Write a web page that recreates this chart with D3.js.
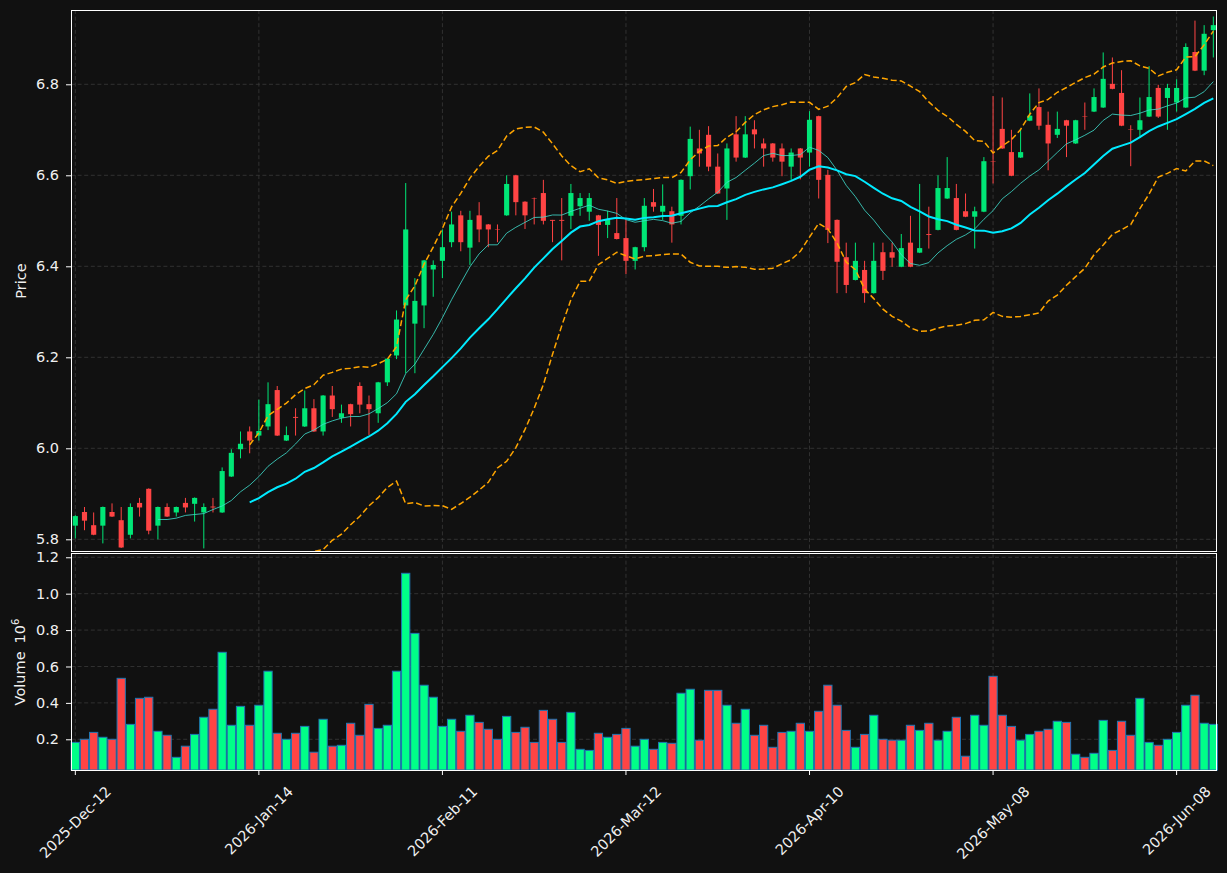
<!DOCTYPE html>
<html>
<head>
<meta charset="utf-8">
<title>Price and volume</title>
<style>
  body { margin: 0; background: #111111; }
  svg text { font-family: "DejaVu Sans", sans-serif; fill: #f0f0f0; }
</style>
</head>
<body>
<div id="chart"></div>
<script src="https://cdn.jsdelivr.net/npm/d3@7"></script>
<script>
// daily OHLC (index 0 = 2025-Dec-12)
const opens = [5.830,5.860,5.831,5.830,5.860,5.842,5.810,5.880,5.911,5.830,
  5.871,5.859,5.880,5.878,5.859,5.872,5.859,5.938,5.998,6.037,
  6.028,6.048,6.128,6.017,6.069,6.048,6.088,6.037,6.116,6.067,
  6.097,6.137,6.097,6.077,6.145,6.204,6.314,6.274,6.314,6.393,
  6.412,6.453,6.512,6.441,6.512,6.492,6.482,6.512,6.600,6.542,
  6.550,6.561,6.502,6.502,6.511,6.532,6.520,6.512,6.491,6.473,
  6.462,6.412,6.442,6.541,6.520,6.521,6.511,6.598,6.659,6.689,
  6.619,6.571,6.690,6.639,6.701,6.670,6.670,6.659,6.619,6.659,
  6.650,6.730,6.601,6.502,6.420,6.370,6.392,6.341,6.431,6.431,
  6.399,6.452,6.430,6.471,6.480,6.549,6.550,6.521,6.509,6.520,
  6.631,6.702,6.651,6.639,6.720,6.750,6.711,6.689,6.721,6.670,
  6.730,6.740,6.749,6.801,6.781,6.701,6.700,6.729,6.792,6.770,
  6.760,6.749,6.871,6.830,6.919];
const highs = [5.853,5.871,5.859,5.872,5.879,5.871,5.879,5.891,5.912,5.872,
  5.879,5.872,5.891,5.892,5.879,5.891,5.958,5.998,6.037,6.048,
  6.107,6.145,6.137,6.048,6.088,6.127,6.108,6.117,6.137,6.096,
  6.098,6.145,6.116,6.146,6.198,6.303,6.583,6.374,6.414,6.413,
  6.481,6.520,6.522,6.522,6.541,6.493,6.492,6.600,6.601,6.543,
  6.551,6.590,6.502,6.550,6.581,6.561,6.561,6.513,6.522,6.550,
  6.502,6.443,6.550,6.570,6.580,6.531,6.591,6.707,6.700,6.708,
  6.648,6.670,6.730,6.730,6.721,6.681,6.671,6.670,6.659,6.660,
  6.741,6.731,6.612,6.503,6.452,6.452,6.412,6.452,6.452,6.452,
  6.471,6.511,6.581,6.531,6.600,6.640,6.581,6.560,6.531,6.640,
  6.774,6.771,6.700,6.700,6.780,6.791,6.740,6.740,6.722,6.722,
  6.760,6.791,6.870,6.859,6.831,6.710,6.771,6.840,6.799,6.801,
  6.811,6.890,6.940,6.930,6.949];
const lows = [5.802,5.820,5.809,5.791,5.849,5.781,5.802,5.850,5.811,5.800,
  5.849,5.850,5.859,5.839,5.780,5.859,5.858,5.937,5.978,5.989,
  6.017,6.040,6.027,6.016,6.028,6.047,6.036,6.028,6.069,6.056,
  6.048,6.077,6.029,6.056,6.137,6.196,6.165,6.165,6.264,6.333,
  6.374,6.442,6.433,6.403,6.453,6.442,6.453,6.511,6.512,6.482,
  6.492,6.492,6.453,6.413,6.482,6.511,6.500,6.423,6.462,6.459,
  6.383,6.393,6.433,6.520,6.502,6.452,6.492,6.569,6.619,6.609,
  6.559,6.502,6.630,6.638,6.659,6.619,6.630,6.598,6.590,6.591,
  6.619,6.549,6.451,6.341,6.341,6.369,6.320,6.340,6.370,6.399,
  6.398,6.398,6.429,6.439,6.479,6.548,6.479,6.508,6.439,6.519,
  6.582,6.658,6.598,6.638,6.719,6.700,6.611,6.682,6.640,6.669,
  6.700,6.739,6.748,6.789,6.708,6.620,6.682,6.728,6.726,6.700,
  6.740,6.748,6.829,6.820,6.859];
const closes = [5.851,5.841,5.810,5.871,5.850,5.782,5.871,5.870,5.819,5.871,
  5.850,5.871,5.870,5.891,5.871,5.870,5.950,5.990,6.010,6.017,
  6.038,6.097,6.028,6.029,6.067,6.088,6.037,6.116,6.086,6.077,
  6.075,6.096,6.086,6.145,6.197,6.283,6.481,6.324,6.413,6.403,
  6.442,6.492,6.453,6.502,6.481,6.481,6.481,6.581,6.541,6.512,
  6.549,6.500,6.500,6.500,6.561,6.550,6.550,6.491,6.502,6.460,
  6.412,6.442,6.533,6.531,6.533,6.492,6.590,6.680,6.648,6.619,
  6.560,6.659,6.639,6.690,6.690,6.659,6.639,6.630,6.650,6.639,
  6.722,6.590,6.480,6.410,6.359,6.412,6.341,6.412,6.390,6.419,
  6.440,6.399,6.440,6.469,6.572,6.572,6.480,6.509,6.521,6.631,
  6.630,6.659,6.599,6.651,6.731,6.709,6.670,6.702,6.709,6.721,
  6.729,6.772,6.812,6.790,6.709,6.700,6.721,6.772,6.729,6.792,
  6.792,6.882,6.830,6.911,6.930];
// volume in millions
const volumes = [0.183,0.200,0.238,0.211,0.200,0.535,0.282,0.425,0.431,0.244,
  0.222,0.101,0.162,0.227,0.321,0.365,0.678,0.277,0.381,0.277,
  0.387,0.574,0.233,0.200,0.233,0.271,0.129,0.310,0.162,0.167,
  0.288,0.222,0.392,0.260,0.277,0.574,1.112,0.782,0.497,0.431,
  0.271,0.310,0.244,0.332,0.293,0.255,0.200,0.326,0.238,0.266,
  0.183,0.359,0.310,0.183,0.348,0.145,0.139,0.233,0.211,0.227,
  0.260,0.162,0.200,0.145,0.183,0.178,0.453,0.475,0.195,0.469,
  0.469,0.387,0.288,0.365,0.222,0.277,0.156,0.238,0.244,0.288,
  0.244,0.354,0.497,0.387,0.249,0.156,0.227,0.332,0.200,0.195,
  0.195,0.277,0.249,0.288,0.195,0.244,0.321,0.107,0.332,0.277,
  0.546,0.332,0.271,0.195,0.227,0.244,0.255,0.299,0.293,0.118,
  0.101,0.123,0.304,0.139,0.299,0.222,0.425,0.183,0.167,0.200,
  0.238,0.387,0.442,0.288,0.282];
const tickIdx = [0, 20, 40, 60, 80, 100, 120];
const tickLabels = ["2025-Dec-12","2026-Jan-14","2026-Feb-11","2026-Mar-12","2026-Apr-10","2026-May-08","2026-Jun-08"];
const priceTicks = [5.8, 6.0, 6.2, 6.4, 6.6, 6.8];
const volTicks = [0.2, 0.4, 0.6, 0.8, 1.0, 1.2];

const upC = "#00e676", downC = "#ff4444";
const volUp = "#00ff88", volDown = "#ff4444";

const left = 71, right = 1217;
const pTop = 10, pBot = 552, vTop = 554, vBot = 770;

const svg = d3.select("#chart").append("svg")
  .attr("width", 1227).attr("height", 873)
  .style("background", "#111111");

const x = d3.scaleLinear().domain([-0.47, 124.4]).range([left, right]);
const yP = d3.scaleLinear().domain([5.7721, 6.9633]).range([pBot, pTop]);
const yV = d3.scaleLinear().domain([0.0313, 1.218]).range([vBot, vTop]);

// rolling helpers
function rolling(arr, n, fn) {
  return arr.map((d, i) => i < n - 1 ? null : fn(arr.slice(i - n + 1, i + 1)));
}
const ma10 = rolling(closes, 10, d3.mean);
const ma20 = rolling(closes, 20, d3.mean);
const sd20 = rolling(closes, 20, d3.deviation);
const bbUp = ma20.map((m, i) => m == null ? null : m + 2 * sd20[i]);
const bbLo = ma20.map((m, i) => m == null ? null : m - 2 * sd20[i]);

svg.append("clipPath").attr("id", "pclip").append("rect")
  .attr("x", left).attr("y", pTop).attr("width", right - left).attr("height", pBot - pTop);

// grid
const grid = svg.append("g").attr("stroke", "#3a3a3a").attr("stroke-width", 0.8).attr("stroke-dasharray", "4,2.6");
priceTicks.forEach(t => grid.append("line").attr("x1", left).attr("x2", right).attr("y1", yP(t)).attr("y2", yP(t)));
volTicks.forEach(t => grid.append("line").attr("x1", left).attr("x2", right).attr("y1", yV(t)).attr("y2", yV(t)));
tickIdx.forEach(t => {
  grid.append("line").attr("x1", x(t)).attr("x2", x(t)).attr("y1", pTop).attr("y2", pBot);
  grid.append("line").attr("x1", x(t)).attr("x2", x(t)).attr("y1", vTop).attr("y2", vBot);
});

// candles
const idx = d3.range(closes.length);
const cg = svg.append("g");
const bw = x(0.28) - x(0);
idx.forEach(i => {
  const col = closes[i] < opens[i] ? downC : upC;
  cg.append("line").attr("x1", x(i)).attr("x2", x(i))
    .attr("y1", yP(highs[i])).attr("y2", yP(lows[i]))
    .attr("stroke", col).attr("stroke-width", 1);
  const top = yP(Math.max(opens[i], closes[i]));
  const bot = yP(Math.min(opens[i], closes[i]));
  cg.append("rect").attr("x", x(i) - bw).attr("width", 2 * bw)
    .attr("y", top).attr("height", Math.max(bot - top, 0.4))
    .attr("fill", col);
});

// moving averages and bands
const line = d3.line().defined(d => d[1] != null).x(d => x(d[0])).y(d => yP(d[1]));
const lg = svg.append("g").attr("clip-path", "url(#pclip)").attr("fill", "none");
lg.append("path").attr("d", line(idx.map(i => [i, bbUp[i]])))
  .attr("stroke", "#ffa500").attr("stroke-width", 1.5).attr("stroke-dasharray", "6,3");
lg.append("path").attr("d", line(idx.map(i => [i, bbLo[i]])))
  .attr("stroke", "#ffa500").attr("stroke-width", 1.5).attr("stroke-dasharray", "6,3");
lg.append("path").attr("d", line(idx.map(i => [i, ma10[i]])))
  .attr("stroke", "#40e0d0").attr("stroke-opacity", 0.8).attr("stroke-width", 1);
lg.append("path").attr("d", line(idx.map(i => [i, ma20[i]])))
  .attr("stroke", "#00eaff").attr("stroke-width", 2);

// volume
const vg = svg.append("g");
idx.forEach(i => {
  vg.append("rect").attr("x", x(i - 0.45)).attr("width", x(0.9) - x(0))
    .attr("y", yV(volumes[i])).attr("height", vBot - yV(volumes[i]))
    .attr("fill", closes[i] < opens[i] ? volDown : volUp)
    .attr("stroke", "#1f77b4").attr("stroke-width", 1);
});

// frames, drawn on pixel centres so they stay crisp white
[[pTop, pBot - 1], [vTop - 1, vBot]].forEach(([a, b]) => {
  svg.append("rect").attr("x", left + 0.5).attr("y", a + 0.5)
    .attr("width", right - left - 1).attr("height", b - a)
    .attr("fill", "none").attr("stroke", "#ffffff").attr("stroke-width", 1)
    .attr("shape-rendering", "crispEdges");
});

// y axes
function styleAxis(g) {
  g.select(".domain").remove();
  g.selectAll(".tick line").attr("stroke", "#ffffff");
  g.selectAll(".tick text").attr("fill", "#f0f0f0").attr("font-size", 14.5)
    .attr("font-family", "DejaVu Sans, sans-serif");
}
svg.append("g").attr("transform", `translate(${left},0)`)
  .call(d3.axisLeft(yP).tickValues(priceTicks).tickFormat(d3.format(".1f")).tickSize(5).tickPadding(7))
  .call(styleAxis);
svg.append("g").attr("transform", `translate(${left},0)`)
  .call(d3.axisLeft(yV).tickValues(volTicks).tickFormat(d3.format(".1f")).tickSize(5).tickPadding(7))
  .call(styleAxis);

// x axis ticks and rotated labels
const xg = svg.append("g");
tickIdx.forEach((t, k) => {
  xg.append("line").attr("x1", x(t)).attr("x2", x(t)).attr("y1", vBot).attr("y2", vBot + 5)
    .attr("stroke", "#ffffff");
  const txt = xg.append("text").attr("font-size", 14.5).text(tickLabels[k]);
  const w = txt.node().getComputedTextLength();
  const half = (w + 14) * Math.SQRT1_2 / 2;
  txt.attr("text-anchor", "middle").attr("dy", "0.35em")
    .attr("transform", `translate(${x(t)},${vBot + 14 + half}) rotate(-45)`);
});

// axis titles
svg.append("text").attr("font-size", 14.5).attr("text-anchor", "middle").attr("dy", "0.35em")
  .attr("transform", `translate(21,${(pTop + pBot) / 2}) rotate(-90)`).text("Price");
const vt = svg.append("text").attr("font-size", 14.5).attr("text-anchor", "middle").attr("dy", "0.35em")
  .attr("transform", `translate(20,${(vTop + vBot) / 2}) rotate(-90)`);
vt.append("tspan").text("Volume");
vt.append("tspan").attr("dx", 8).text("10");
vt.append("tspan").attr("font-size", 10).attr("dy", -6).text("6");
</script>
</body>
</html>
